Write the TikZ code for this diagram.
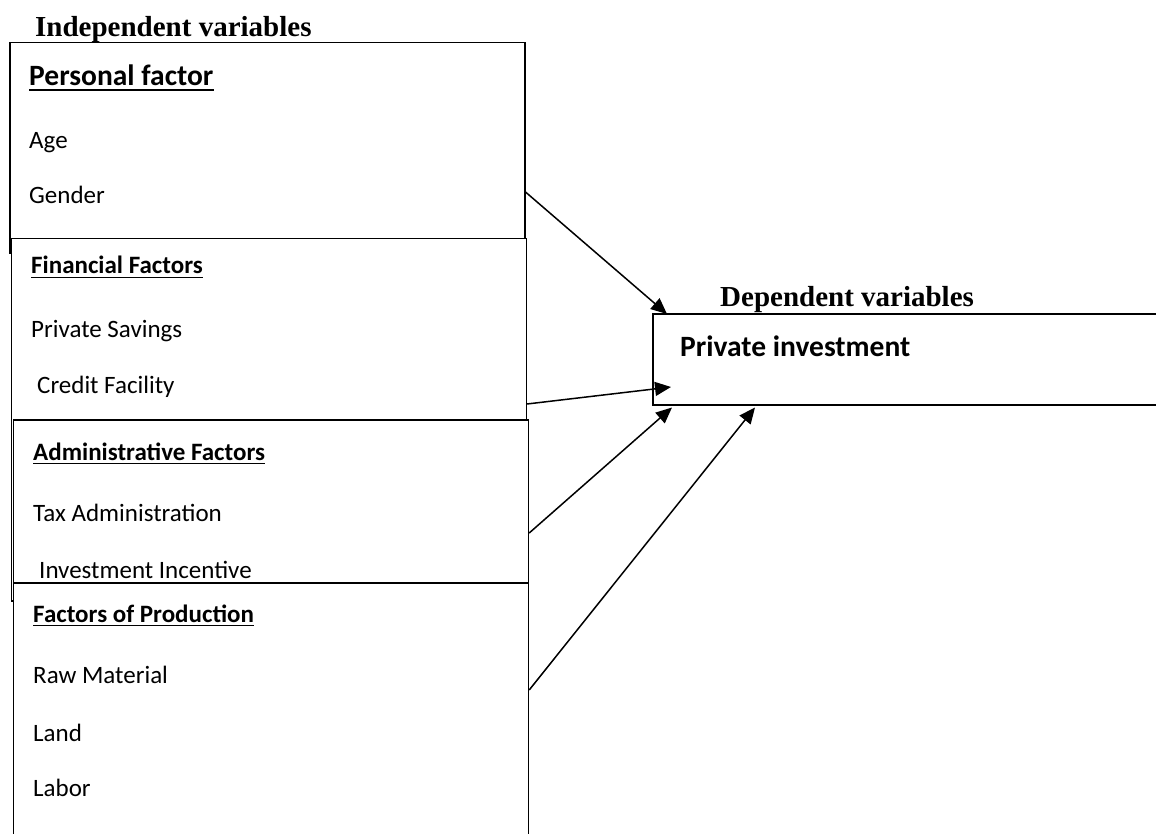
\documentclass[tikz,border=0pt]{standalone}
\usepackage{fontspec}
\setmainfont{Carlito}
\newfontfamily\timesbf{Liberation Serif}[BoldFont={* Bold}]
\usetikzlibrary{arrows.meta,calc}
\tikzset{
  box/.style={draw=black, fill=white, line width=1.5pt, inner sep=0pt, anchor=north west},
  head/.style={anchor=base west, inner sep=0pt, font=\timesbf\bfseries\fontsize{29}{34}\selectfont},
  sub/.style={anchor=base west, inner sep=0pt, font=\bfseries\fontsize{25}{30}\selectfont},
  item/.style={anchor=base west, inner sep=0pt, font=\fontsize{25}{30}\selectfont},
  big/.style={anchor=base west, inner sep=0pt, font=\bfseries\fontsize{29.5}{34}\selectfont},
  uline/.style={line width=1.8pt},
  arr/.style={line width=1.5pt, -{Triangle[length=16pt,width=14pt]}}
}
\begin{document}
\begin{tikzpicture}[x=1pt,y=-1pt]
\useasboundingbox (0,0) rectangle (1156,834);
\clip (0,0) rectangle (1156,834);
% boxes (drawn in order so each covers the previous)
\node[box, minimum width=515pt, minimum height=211pt] (pers) at (9,42) {};
\node[box, minimum width=515pt, minimum height=362pt] (fin) at (10.5,238) {};
\node[box, minimum width=515pt, minimum height=313pt] (adm) at (12.7,419) {};
\node[box, minimum width=515pt, minimum height=300pt] (prod) at (12.7,582) {};
\node[box, minimum width=560pt, minimum height=91pt] (dep) at (652,313) {};
% titles
\node[head] (tind) at (35,37) {Independent variables};
\node[head] (tdep) at (720,306) {Dependent variables};
% personal
\node[big] (tpers) at (29,86) {Personal factor};
\node[item] (tage) at (29,149) {Age};
\node[item] (tgen) at (29,204) {Gender};
% financial
\node[sub] (tfin) at (31,274) {Financial Factors};
\node[item] (tsav) at (31,337) {Private Savings};
\node[item] (tcre) at (37,393) {Credit Facility};
% administrative
\node[sub] (tadm) at (33,460) {Administrative Factors};
\node[item] (ttax) at (33,521) {Tax Administration};
\node[item] (tinv) at (39,578) {Investment Incentive};
% production
\node[sub] (tprod) at (33,622) {Factors of Production};
\node[item] (traw) at (33,683) {Raw Material};
\node[item] (tland) at (33,741) {Land};
\node[item] (tlab) at (33,796) {Labor};
% dependent
\node[big] (tpi) at (680,356) {Private investment};
% underlines
\foreach \n/\d in {tpers/4,tfin/3.5,tadm/3.5,tprod/3.5}
  \draw[uline] ([yshift=-\d pt]\n.base west) -- ([yshift=-\d pt]\n.base east);
% connectors
\coordinate (s1) at ($(pers.north east)+(0,150)$);
\coordinate (s2) at ($(fin.north east)+(0,166)$);
\coordinate (s3) at ($(adm.north east)+(0,114)$);
\coordinate (s4) at ($(prod.north east)+(0,108)$);
\coordinate (e1) at ($(dep.north west)+(15,1)$);
\coordinate (e2) at ($(dep.north west)+(19,74)$);
\coordinate (e3) at ($(dep.south west)+(20,2)$);
\coordinate (e4) at ($(dep.south west)+(103,2)$);
\draw[arr] (s1) -- (e1);
\draw[arr] (s2) -- (e2);
\draw[arr] (s3) -- (e3);
\draw[arr] (s4) -- (e4);
\end{tikzpicture}
\end{document}
